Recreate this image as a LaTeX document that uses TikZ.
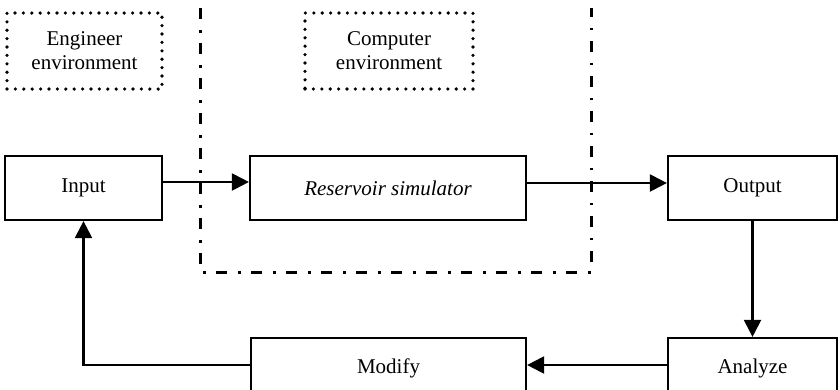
\documentclass[tikz,border=0pt]{standalone}
\usepackage{fontspec}
\setmainfont{Liberation Serif}
\usetikzlibrary{arrows.meta}

\tikzset{
  block/.style={draw, line width=2.2pt, fill=white, inner sep=0pt,
    font=\fontsize{21}{24}\selectfont},
  envbox/.style={draw, line width=3.6pt, line cap=round,
    dash pattern=on 0pt off 8.4pt, align=center, inner sep=0pt,
    font=\fontsize{21}{24}\selectfont},
  boundary/.style={line width=3pt, dash pattern=on 11pt off 11pt on 2.5pt off 10.5pt},
  flow/.style={line width=2.2pt, -{Triangle[length=17pt,width=17pt]}},
}

\begin{document}
\begin{tikzpicture}[x=1pt, y=-1pt]
  \useasboundingbox (0,0) rectangle (840,389);
  \clip (0,0) rectangle (840,389);

  % environment labels
  \node[envbox, minimum width=155pt, minimum height=76pt] (eng) at (84.5,51)
    {Engineer\\environment};
  \node[envbox, minimum width=168pt, minimum height=76pt] (comp) at (389,51)
    {Computer\\environment};

  % boundary of the computer environment (open at the top)
  \coordinate (b1) at (200,8);
  \coordinate (b2) at (200,272);
  \coordinate (b3) at (591,272);
  \coordinate (b4) at (591,8);
  \draw[boundary] (b1) -- (b2) -- (b3) -- (b4);

  % process blocks
  \node[block, minimum width=157pt, minimum height=64pt] (input) at (83.5,188) {Input};
  \node[block, minimum width=276pt, minimum height=64pt] (res) at (388,188) {\itshape Reservoir simulator};
  \node[block, minimum width=169pt, minimum height=64pt] (output) at (752.5,188) {Output};
  \node[block, minimum width=169pt, minimum height=60pt] (analyze) at (752.5,368) {Analyze};
  \node[block, minimum width=275pt, minimum height=60pt] (modify) at (388.5,368) {Modify};

  % connectors
  \draw[flow] ([yshift=6pt]input.east) -- ([yshift=6pt]res.west);
  \draw[flow] ([yshift=5pt]res.east) -- ([yshift=5pt]output.west);
  \draw[flow] (output.south) -- (analyze.north);
  \draw[flow] ([yshift=3pt]analyze.west) -- ([yshift=3pt]modify.east);
  \draw[flow] ([yshift=3pt]modify.west) -| (input.south);
\end{tikzpicture}
\end{document}
